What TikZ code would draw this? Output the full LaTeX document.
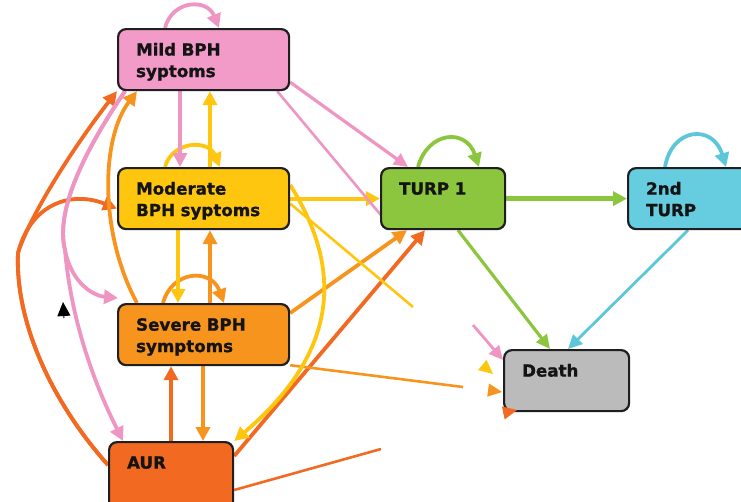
\documentclass[tikz,border=0pt]{standalone}
\usepackage{fontspec}
\setmainfont{DejaVu Sans}[BoldFeatures={FakeBold=1.2}]
\usetikzlibrary{arrows.meta,calc,backgrounds}
\definecolor{pinkc}{HTML}{F29BC8}
\definecolor{pinkl}{HTML}{EE95C3}
\definecolor{yelc}{HTML}{FFC60F}
\definecolor{orc}{HTML}{F7941E}
\definecolor{redc}{HTML}{F26A22}
\definecolor{grc}{HTML}{8CC63E}
\definecolor{bluc}{HTML}{66CDE0}
\definecolor{blul}{HTML}{5CC6DA}
\definecolor{greyc}{HTML}{BBBBBB}
\begin{document}
\begin{tikzpicture}[x=1pt,y=-1pt,
  box/.style={draw=black!88, line width=2.2pt, rounded corners=8pt, anchor=north west,
    inner xsep=18pt, inner ysep=0pt, align=left, text height=26.5pt, text depth=34.5pt,
    font=\fontsize{16.7}{21.5}\selectfont\bfseries, text=black!92},
  ed/.style={line width=3.8pt, -{Triangle[length=14pt,width=14pt]}},
  slim/.style={line width=2.8pt, -{Triangle[length=14pt,width=13pt]}},
  ln/.style={line width=2.6pt},
  stub/.style={line width=1pt, -{Triangle[length=14pt,width=13pt]}}
]
\useasboundingbox (0,0) rectangle (741,501);

\node[box, fill=pinkc, text width=135pt] (Mild) at (117,28) {Mild BPH\\syptoms};
\node[box, fill=yelc, text width=135pt] (Mod) at (117,167) {Moderate\\BPH syptoms};
\node[box, fill=orc, text width=135pt] (Sev) at (117,303) {Severe BPH\\symptoms};
\node[box, fill=redc, text width=88pt, text depth=44pt] (AUR) at (108,441) {AUR};
\node[box, fill=grc, text width=88pt] (TURP) at (380,167) {TURP 1};
\node[box, fill=bluc, text width=88pt] (T2) at (627,167) {2nd\\TURP};
\node[box, fill=greyc, text width=89pt] (Death) at (503,349) {Death};

\begin{pgfonlayer}{background}
% self loops
\draw[ed, pinkl] ($(Mild.north west)+(48,0)$) .. controls +(7,-28) and +(-12,-30) .. ($(Mild.north west)+(102,0)$);
\draw[ed, yelc] ($(Mod.north west)+(48,0)$) .. controls +(7,-26) and +(-12,-28) .. ($(Mod.north west)+(103,0)$);
\draw[ed, orc] ($(Sev.north west)+(46,0)$) .. controls +(9,-33) and +(-13,-35) .. ($(Sev.north west)+(107,0)$);
\draw[ed, grc] ($(TURP.north west)+(38,0)$) .. controls +(10,-36) and +(-13,-39) .. ($(TURP.north west)+(99,0)$);
\draw[ed, blul] ($(T2.north west)+(38,0)$) .. controls +(7,-40) and +(-13,-43) .. ($(T2.north west)+(99,0)$);

% verticals
\draw[ed, pinkl] ($(Mild.south west)+(63,0)$) -- ($(Mod.north west)+(63,0)$);
\draw[ed, yelc] ($(Mod.north west)+(93,0)$) -- ($(Mild.south west)+(93,0)$);
\draw[ed, yelc] ($(Mod.south west)+(61,0)$) -- ($(Sev.north west)+(61,0)$);
\draw[ed, orc] ($(Sev.north west)+(93,0)$) -- ($(Mod.south west)+(93,0)$);
\draw[ed, orc] ($(Sev.south west)+(86,0)$) -- ($(AUR.north west)+(95,0)$);
\draw[ed, redc] ($(AUR.north west)+(63,0)$) -- ($(Sev.south west)+(54,0)$);

% horizontals
\draw[ed, yelc] (Mod.east) -- (TURP.west);
\draw[ed, grc, line width=4.4pt] (TURP.east) -- (T2.west);

% diagonals
\draw[slim, grc, line width=3.2pt] ($(TURP.south west)+(78,0)$) -- ($(Death.north west)+(47,0)$);
\draw[slim, blul] ($(T2.south west)+(61,0)$) -- ($(Death.north west)+(65,0)$);
\draw[slim, pinkl, line width=3.2pt] ($(Mild.south east)+(0,-9)$) -- ($(TURP.north west)+(28,0)$);
\draw[ed, orc] ($(Sev.north east)+(0,10)$) -- ($(TURP.south west)+(27,0)$);
\draw[ed, redc] ($(AUR.north east)+(0,15)$) -- ($(TURP.south west)+(45,0)$);

% broken lines towards Death
\coordinate (pk1) at (390,226);
\coordinate (pk2) at (473,325);
\draw[ln, pinkl] ($(Mild.south east)+(-13,0)$) -- (pk1);
\coordinate (ye1) at (413,307);
\draw[ln, yelc] ($(Mod.east)+(0,5)$) -- (ye1);
\coordinate (or1) at (463,387);
\draw[ln, orc] ($(Sev.south east)+(0,-1)$) -- (or1);
\coordinate (rd1) at (381,449);
\draw[ln, redc] ($(AUR.north east)+(0,49)$) -- (rd1);

% curves
\draw[ed, yelc] ($(Mod.north east)+(0,18)$) .. controls +(47,75) and +(113,-96) .. (AUR.north east);
\coordinate (split) at (18,253);
\draw[ed, redc] ($(AUR.north west)+(0,24)$) .. controls (50,400) and (15,320) .. (split) .. controls (30,215) and (75,145) .. (Mild.south west);
\draw[ed, redc] ($(AUR.north west)+(0,24)$) .. controls (50,400) and (15,320) .. (split) .. controls (30,205) and (70,190) .. ($(Mod.west)+(0,10)$);
\draw[ed, orc] ($(Sev.north west)+(20,0)$) .. controls (100,235) and (100,140) .. ($(Mild.south west)+(20,0)$);
\coordinate (psplit) at (65,250);
\draw[ed, pinkl] ($(Mild.south west)+(8,0)$) .. controls (85,150) and (55,210) .. (psplit) .. controls (72,285) and (95,296) .. ($(Sev.north west)+(1,-5)$);
\draw[ed, pinkl] ($(Mild.south west)+(8,0)$) .. controls (85,150) and (55,210) .. (psplit) .. controls (72,330) and (100,395) .. ($(AUR.north west)+(15,0)$);
\end{pgfonlayer}

% arrowhead stubs near Death (drawn over the box)
\draw[slim, pinkl] (pk2) -- ($(Death.north west)+(0,11)$);
\coordinate (ye2) at (482.3,365);
\coordinate (ye3) at (493,374);
\draw[stub, yelc] (ye2) -- (ye3);
\coordinate (or2) at (488.1,390.1);
\coordinate (or3) at (502,392);
\draw[stub, orc] (or2) -- (or3);
\coordinate (rd2) at (503,413);
\coordinate (rd3) at (517,410);
\draw[stub, redc] (rd2) -- (rd3);

% stray black arrowhead
\coordinate (bk1) at (64,318);
\coordinate (bk2) at (63,302);
\draw[stub, black] (bk1) -- (bk2);
\end{tikzpicture}
\end{document}
